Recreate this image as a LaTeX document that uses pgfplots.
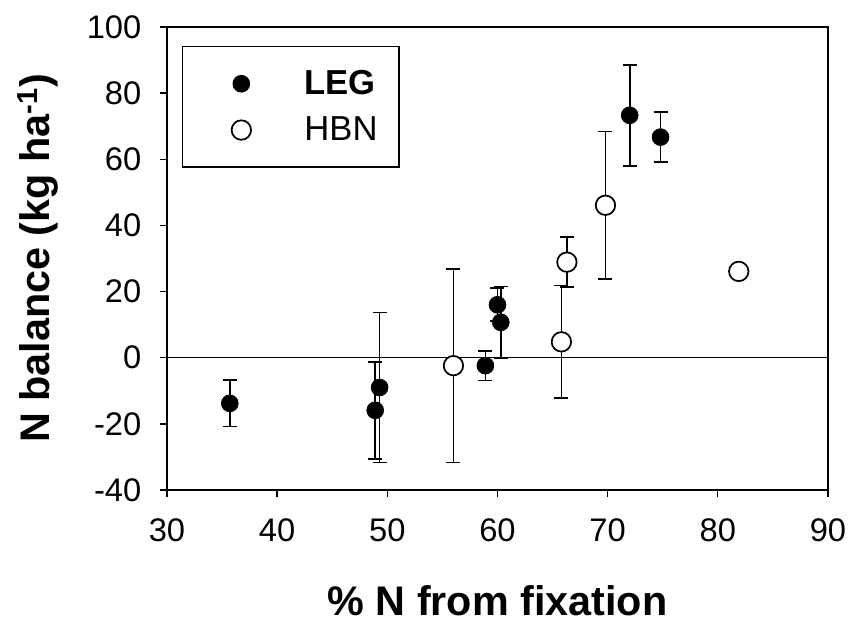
\documentclass[border=0pt]{standalone}
\usepackage{pgfplots}
\usepackage{pgfplotstable}
\pgfplotsset{compat=1.18}
\usepackage{fontspec}
\setmainfont{Liberation Sans}
\pgfplotstableread{
x y e
35.7 -13.8 7.0
48.9 -15.9 14.7
49.3 -9.0 22.7
58.9 -2.4 4.5
60.0 16.0 5.0
60.3 10.7 10.8
72.0 73.3 15.3
74.8 66.7 7.5
}\leg
\pgfplotstableread{
x y e
56.0 -2.4 29.3
65.8 4.8 17.0
66.3 28.9 7.5
69.8 46.1 22.3
81.9 26.1 0
}\hbn
\begin{document}
\begin{tikzpicture}
\begin{axis}[name=ax, scale only axis, width=495.75pt, height=347.25pt,
  xmin=30, xmax=90, ymin=-40, ymax=100,
  xtick={30,40,...,90}, ytick={-40,-20,...,100},
  axis line style={line width=1pt},
  tick style={line width=1pt, black},
  tick align=outside, major tick length=5.25pt,
  tick pos=left,
  /pgf/number format/assume math mode=true,
  ticklabel style={font=\fontsize{24.5}{28}\selectfont},
  xticklabel style={yshift=-13pt},
  yticklabel style={xshift=-10.5pt},
  xlabel={\% N from fixation},
  ylabel={N balance (kg ha\textsuperscript{-1})},
  label style={font=\fontsize{31}{36}\selectfont\bfseries},
  xlabel style={at={(axis description cs:0.5,0)}, anchor=base, yshift=-94pt},
  ylabel style={at={(axis description cs:0,0.5)}, anchor=base, yshift=88pt},
  legend style={at={(0.0227,0.959)}, anchor=north west, draw=black, line width=1pt,
    font=\fontsize{26}{30}\selectfont, inner xsep=16pt, inner ysep=18pt,
    row sep=15.2pt, column sep=40pt, nodes={inner sep=0pt}},
  legend cell align=left,
  legend image code/.code={\path[draw=none] (-28pt,0pt) -- (0pt,0pt); \draw[#1] plot coordinates {(0pt,0pt)};},
  error bars/error bar style={line width=1.3pt, black},
  error bars/error mark options={rotate=90, mark size=5.25pt, line width=1.3pt, black},
]
\addplot[black, line width=1.1pt, forget plot] coordinates {(30,0) (90,0)};
\addplot[only marks, mark=*, mark size=6.3pt, mark options={fill=black, draw=black, line width=0.6pt},
  error bars/.cd, y dir=both, y explicit] table[x=x, y=y, y error=e] {\leg};
\addlegendentry{\textbf{LEG}}
\addplot[only marks, mark=*, mark size=7.3pt, mark options={fill=white, draw=black, line width=1.3pt},
  error bars/.cd, y dir=both, y explicit] table[x=x, y=y, y error=e] {\hbn};
\addlegendentry{HBN}
\end{axis}
\pgfresetboundingbox
\useasboundingbox ([xshift=-125.25pt,yshift=-101.25pt]ax.south west) rectangle ([xshift=19.5pt,yshift=20.25pt]ax.north east);
\end{tikzpicture}
\end{document}
